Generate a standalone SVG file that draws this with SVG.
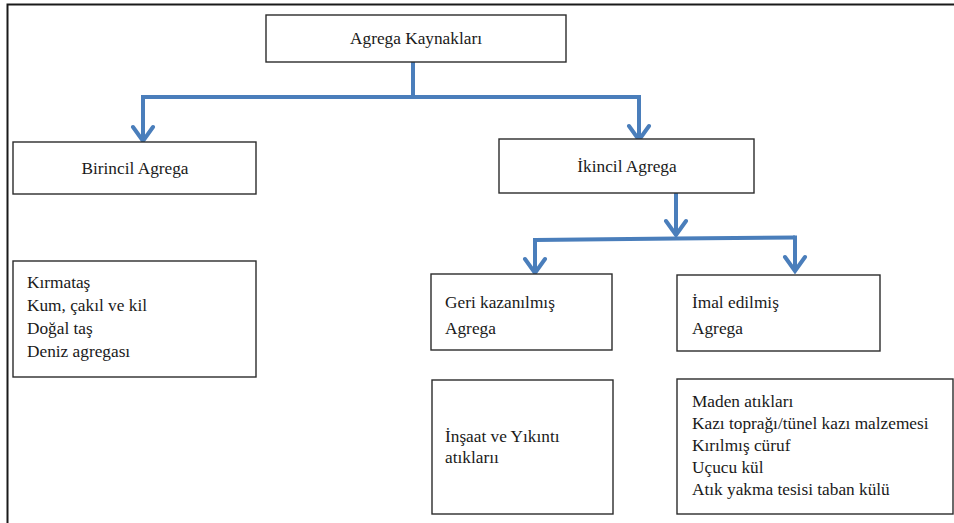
<svg xmlns="http://www.w3.org/2000/svg" width="954" height="523" viewBox="0 0 954 523">
  <style>
    .box { fill: #ffffff; stroke: #2b2b2b; stroke-width: 1.4; }
    .t { font-family: "Liberation Serif", "Times New Roman", serif; font-size: 17.3px; fill: #1a1a1a; }
    .c { text-anchor: middle; }
    .conn { fill: none; stroke: #4a7ebb; stroke-width: 4; stroke-linejoin: miter; }
    .frame { fill: none; stroke: #1a1a1a; stroke-width: 2; }
  </style>
  <defs>
    <marker id="chev" viewBox="-18 -13 21 26" refX="0" refY="0" markerWidth="21" markerHeight="26" markerUnits="userSpaceOnUse" orient="auto">
      <path d="M -14 -10 L 0 0 L -14 10" fill="none" stroke="#4a7ebb" stroke-width="4" stroke-linecap="round" stroke-linejoin="miter"/>
    </marker>
  </defs>
  <rect width="954" height="523" fill="#ffffff"/>
  <path class="frame" d="M 7.5 523 L 7.5 4.5 L 954 4.5"/>

  <g id="connectors">
    <path class="conn" d="M 413 62 L 413 97"/>
    <path class="conn" d="M 143 97 L 639 97"/>
    <path class="conn" d="M 143 95 L 143 141" marker-end="url(#chev)"/>
    <path class="conn" d="M 639 95 L 639 140" marker-end="url(#chev)"/>
    <path class="conn" d="M 676 193 L 676 235" marker-end="url(#chev)"/>
    <path class="conn" d="M 535 240 L 676 238.5 L 795 237.5"/>
    <path class="conn" d="M 535 238 L 535 273" marker-end="url(#chev)"/>
    <path class="conn" d="M 795 235.5 L 795 271" marker-end="url(#chev)"/>
  </g>

  <g id="agrega-kaynaklari">
    <rect class="box" x="266" y="15" width="300" height="47"/>
    <text class="t c" x="416" y="44">Agrega Kaynakları</text>
  </g>

  <g id="birincil-agrega">
    <rect class="box" x="13" y="142" width="243" height="52"/>
    <text class="t c" x="135" y="174">Birincil Agrega</text>
  </g>

  <g id="ikincil-agrega">
    <rect class="box" x="499" y="139" width="255" height="54"/>
    <text class="t c" x="627" y="172">İkincil Agrega</text>
  </g>

  <g id="birincil-liste">
    <rect class="box" x="13" y="261" width="243" height="116"/>
    <text class="t" x="27" y="288">Kırmataş</text>
    <text class="t" x="27" y="311">Kum, çakıl ve kil</text>
    <text class="t" x="27" y="334">Doğal taş</text>
    <text class="t" x="27" y="357">Deniz agregası</text>
  </g>

  <g id="geri-kazanilmis">
    <rect class="box" x="431" y="274" width="181" height="76"/>
    <text class="t" x="445" y="308">Geri kazanılmış</text>
    <text class="t" x="445" y="334">Agrega</text>
  </g>

  <g id="imal-edilmis">
    <rect class="box" x="677" y="275" width="203" height="76"/>
    <text class="t" x="692" y="308">İmal edilmiş</text>
    <text class="t" x="692" y="334">Agrega</text>
  </g>

  <g id="insaat-yikinti">
    <rect class="box" x="432" y="380" width="181" height="134"/>
    <text class="t" x="445" y="442">İnşaat ve Yıkıntı</text>
    <text class="t" x="445" y="463">atıklarıı</text>
  </g>

  <g id="imal-liste">
    <rect class="box" x="677" y="379" width="276" height="135"/>
    <text class="t" x="692" y="407">Maden atıkları</text>
    <text class="t" x="692" y="429">Kazı toprağı/tünel kazı malzemesi</text>
    <text class="t" x="692" y="451">Kırılmış cüruf</text>
    <text class="t" x="692" y="473">Uçucu kül</text>
    <text class="t" x="692" y="495">Atık yakma tesisi taban külü</text>
  </g>
</svg>
